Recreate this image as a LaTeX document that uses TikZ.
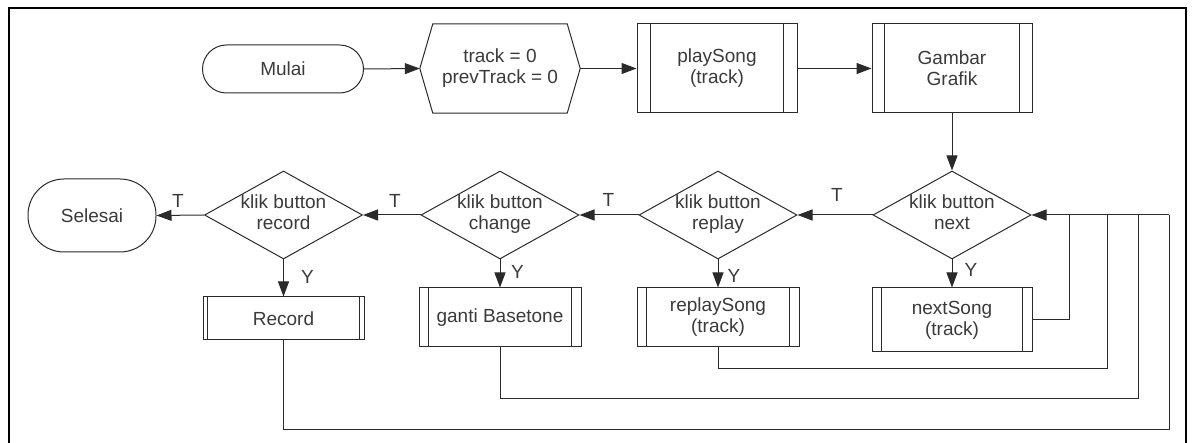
\documentclass[tikz,border=0pt]{standalone}
\usepackage{fontspec}
\setmainfont{Liberation Sans}
\usetikzlibrary{arrows.meta,shapes.geometric}
\definecolor{ln}{HTML}{2A2A2A}
\definecolor{tx}{HTML}{3A3A3A}
\newcommand{\twol}[2]{\makebox[40pt]{\begin{tabular}{@{}c@{}}#1\\#2\end{tabular}}}
\begin{document}
\begin{tikzpicture}[x=1pt,y=-1pt,
  font=\fontsize{19}{21}\selectfont,
  every node/.style={text=tx, align=center, inner sep=0pt},
  ln/.style={draw=ln, line width=1pt},
  arr/.style={ln, -{Triangle[length=15pt,width=11pt]}},
  termbox/.style={ln, rectangle, rounded corners=#1},
  procbox/.style={ln, rectangle, minimum width=160pt},
  decbox/.style={ln, diamond, shape aspect=1.8, minimum width=158pt, minimum height=88pt},
  lbl/.style={inner sep=0pt}]
\useasboundingbox (0,0) rectangle (1192,443);
% frame
\draw[black, line width=2pt] (9,445) -- (9,8) -- (1186,8) -- (1186,445);

% top row
\node[termbox=24pt, minimum width=161pt, minimum height=48pt] (mulai) at (283,69) {Mulai};
\node[minimum width=134pt, minimum height=89pt] (init) at (500,68.5) {track = 0\\prevTrack = 0};
\coordinate (initL) at ([xshift=-13pt]init.west);
\coordinate (initR) at ([xshift=13pt]init.east);
\draw[ln] (init.north west) -- (init.north east) -- (initR) -- (init.south east) -- (init.south west) -- (initL) -- cycle;
\node[procbox, minimum height=89pt] (play) at (717,68.5) {playSong\\(track)};
\node[procbox, minimum height=89pt] (gambar) at (952,68.5) {Gambar\\Grafik};

% decisions
\node[decbox] (next) at (952,215) {\twol{klik button}{next}};
\node[decbox] (replay) at (718,215) {\twol{klik button}{replay}};
\node[decbox] (change) at (500,215) {\twol{klik button}{change}};
\node[decbox] (record) at (283.5,215) {\twol{klik button}{record}};
\node[termbox=36pt, minimum width=128pt, minimum height=73pt] (selesai) at (92,215.5) {Selesai};

% process boxes
\node[procbox, minimum height=64pt] (nextsong) at (952,320) {nextSong\\(track)};
\node[procbox, minimum width=162pt, minimum height=59pt] (replaysong) at (718,317.5) {replaySong\\(track)};
\node[procbox, minimum width=162pt, minimum height=59pt] (ganti) at (500,317.5) {ganti Basetone};
\node[procbox, minimum width=161pt, minimum height=43pt] (rec) at (283.5,318.5) {Record};

% inner bars of predefined processes
\foreach \n/\d in {play/14, gambar/13, nextsong/10, replaysong/10, ganti/10, rec/5}{
  \draw[ln] ([xshift=\d pt]\n.north west) -- ([xshift=\d pt]\n.south west);
  \draw[ln] ([xshift=-\d pt]\n.north east) -- ([xshift=-\d pt]\n.south east);
}

% main flow
\draw[arr] (mulai.east) -- (initL);
\draw[arr] (initR) -- (play.west);
\draw[arr] (play.east) -- (gambar.west);
\draw[arr] (gambar.south) -- (next.north);
\draw[arr] (next.west) -- (replay.east);
\draw[arr] (replay.west) -- (change.east);
\draw[arr] (change.west) -- (record.east);
\draw[arr] (record.west) -- (selesai.east);
\draw[arr] (next.south) -- (nextsong.north);
\draw[arr] (replay.south) -- (replaysong.north);
\draw[arr] (change.south) -- (ganti.north);
\draw[arr] (record.south) -- (rec.north);

% labels
\node[lbl] (t1) at (837,194.5) {T};
\node[lbl] (t2) at (608.5,199.5) {T};
\node[lbl] (t3) at (395,201) {T};
\node[lbl] (t4) at (178,201) {T};
\node[lbl] (y1) at (971,270) {Y};
\node[lbl] (y2) at (734,276) {Y};
\node[lbl] (y3) at (517.5,271.5) {Y};
\node[lbl] (y4) at (307.5,277) {Y};

% loops back
\coordinate (j1) at (1069,215);
\coordinate (j2) at (1107,215);
\coordinate (j3) at (1138,215);
\coordinate (j4) at (1169,215);
\draw[ln] (nextsong.east) -| (j1);
\draw[ln] (replaysong.south) |- (1107,369) -- (j2);
\draw[ln] (ganti.south) |- (1138,399) -- (j3);
\draw[ln] (rec.south) |- (1169,430) -- (j4);
\draw[arr] (j4) -- (next.east);
\end{tikzpicture}
\end{document}
